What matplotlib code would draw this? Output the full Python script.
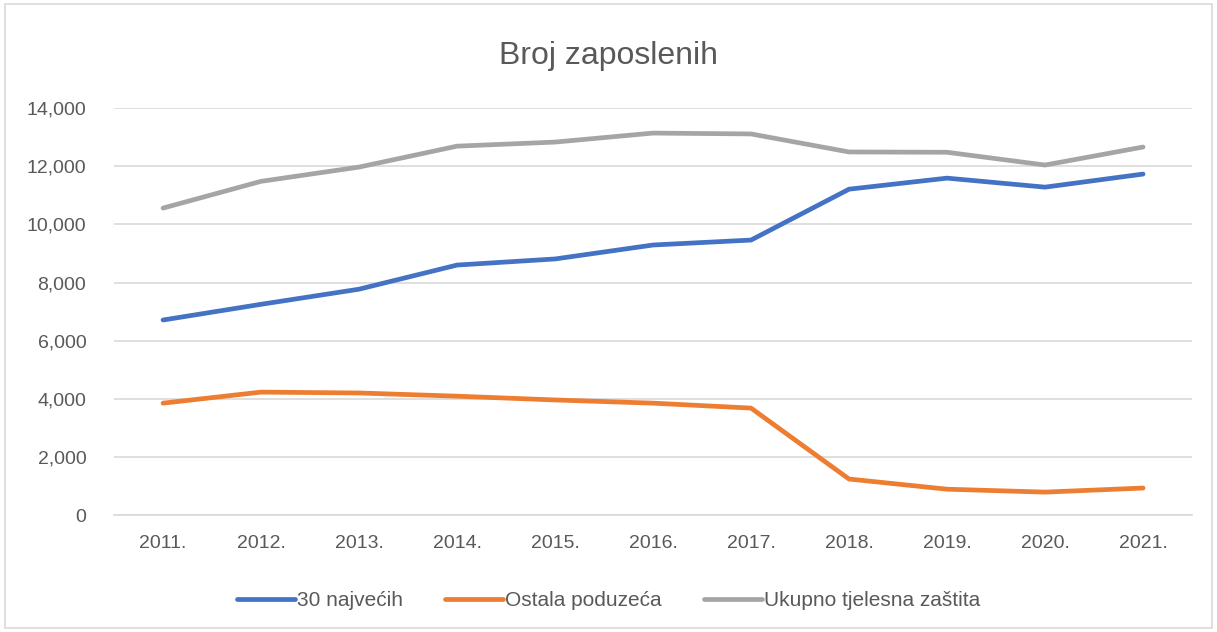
import matplotlib.pyplot as plt
from matplotlib.patches import Rectangle

years = ["2011.", "2012.", "2013.", "2014.", "2015.", "2016.", "2017.", "2018.", "2019.", "2020.", "2021."]
najveci30 = [6710, 7250, 7770, 8600, 8810, 9290, 9460, 11210, 11590, 11280, 11730]
ostala = [3850, 4230, 4200, 4090, 3960, 3850, 3680, 1240, 890, 790, 930]
ukupno = [10560, 11480, 11970, 12690, 12830, 13140, 13110, 12490, 12480, 12040, 12660]
yticks = [0, 2000, 4000, 6000, 8000, 10000, 12000, 14000]

plt.rcParams['font.family'] = ['Liberation Sans', 'DejaVu Sans']

fig = plt.figure(figsize=(12.17, 6.32), dpi=100)
fig.patches.append(Rectangle((0.004, 0.006), 0.992, 0.988, transform=fig.transFigure,
                             fill=False, edgecolor='#D9D9D9', linewidth=1.2))
ax = fig.add_axes([0.0937, 0.185, 0.8858, 0.644])

x = list(range(len(years)))
ax.plot(x, najveci30, color='#4472C4', lw=3.4, solid_capstyle='round', label='30 najvećih')
ax.plot(x, ostala, color='#ED7D31', lw=3.4, solid_capstyle='round', label='Ostala poduzeća')
ax.plot(x, ukupno, color='#A5A5A5', lw=3.4, solid_capstyle='round', label='Ukupno tjelesna zaštita')

ax.set_xlim(-0.5, len(years) - 0.5)
ax.set_ylim(0, 14000)
ax.set_xticks(x)
ax.set_xticklabels(years)
ax.set_yticks(yticks)
ax.set_yticklabels([f"{v:,}" for v in yticks])
ax.tick_params(length=0, labelsize=14, colors='#595959')
ax.tick_params(axis='y', pad=20)
ax.tick_params(axis='x', pad=14)
ax.grid(axis='y', color='#D9D9D9', lw=1.2)
ax.set_axisbelow(True)
for s in ['top', 'right', 'left']:
    ax.spines[s].set_visible(False)
ax.spines['bottom'].set_color('#D9D9D9')
ax.spines['bottom'].set_linewidth(1.2)

fig.text(0.5, 0.912, "Broj zaposlenih", ha='center', va='center', fontsize=23, color='#595959')

fig.legend(loc='center', bbox_to_anchor=(0.5, 0.05), ncol=3, frameon=False,
           fontsize=15, labelcolor='#595959', handlelength=2.8, handletextpad=0.1,
           columnspacing=2.0)

fig.savefig("out.png", dpi=100)
